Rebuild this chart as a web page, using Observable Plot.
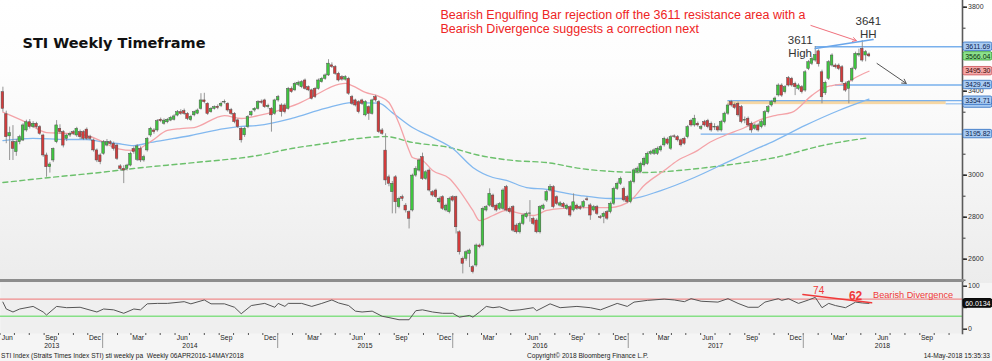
<!DOCTYPE html>
<html><head><meta charset="utf-8">
<script src="https://cdn.jsdelivr.net/npm/d3@7"></script>
<script src="https://cdn.jsdelivr.net/npm/@observablehq/plot@0.6"></script>
<style>
body{margin:0;background:#fff;font-family:"Liberation Sans",Arial,sans-serif;}
#wrap{position:relative;width:992px;height:361px;overflow:hidden;background:#f5f5f5}
#main{position:absolute;left:0;top:0;width:992px;height:283px;background:linear-gradient(#ffffff 0%,#fdfdfd 25%,#ececec 100%)}
#rsi{position:absolute;left:0;top:282px}
.ft{position:absolute;top:352px;font-size:6.6px;line-height:8px;color:#222;white-space:pre}
</style></head><body>
<div id="wrap"><div id="main"></div><div id="rsi"></div>
<div class="ft" style="left:1px">STI Index (Straits Times Index STI) sti weekly pa  Weekly 06APR2016-14MAY2018</div>
<div class="ft" style="left:527px">Copyright© 2018 Bloomberg Finance L.P.</div>
<div class="ft" style="right:2px">14-May-2018 15:35:33</div>
</div>
<script>
// ---------- DATA ----------
const firstWeek = "2013-06-07"; // weekly bars (Friday)
// [open, high, low, close] per week
const ohlc = [
[3395,3419,3300,3316],[3290,3305,3150,3181],[3185,3229,3070,3200],[3157,3236,3070,3125],[3110,3170,3090,3157],
[3157,3190,3145,3181],[3165,3245,3160,3237],[3213,3262,3205,3252],[3252,3265,3220,3229],[3229,3255,3222,3245],
[3245,3252,3220,3229],[3229,3236,3190,3197],[3189,3195,3085,3094],[3094,3105,2990,3038],[3038,3060,3010,3051],
[3070,3130,3060,3125],[3157,3260,3150,3237],[3221,3240,3195,3205],[3205,3212,3130,3141],[3173,3195,3160,3189],
[3189,3205,3180,3197],[3205,3212,3190,3197],[3189,3228,3180,3221],[3205,3215,3170,3181],[3205,3212,3165,3173],
[3217,3225,3165,3173],[3181,3190,3165,3173],[3165,3172,3110,3118],[3118,3125,3060,3070],[3094,3102,3050,3062],
[3102,3165,3095,3157],[3141,3170,3135,3157],[3157,3165,3140,3149],[3149,3158,3115,3125],[3141,3148,3070,3078],
[3042,3050,3020,3030],[3030,3045,2960,3022],[3030,3052,3020,3046],[3046,3110,3040,3102],[3125,3135,3100,3110],
[3073,3145,3065,3137],[3125,3135,3060,3070],[3070,3095,3062,3086],[3118,3180,3110,3173],[3189,3228,3180,3221],
[3213,3222,3195,3205],[3213,3265,3205,3257],[3264,3272,3250,3257],[3245,3268,3238,3260],[3252,3270,3245,3264],
[3260,3280,3255,3273],[3264,3288,3258,3280],[3284,3308,3278,3300],[3300,3312,3285,3292],[3305,3315,3285,3292],
[3292,3298,3260,3268],[3262,3285,3255,3278],[3285,3305,3278,3300],[3293,3315,3288,3308],[3316,3388,3310,3356],
[3356,3390,3340,3348],[3340,3345,3285,3292],[3300,3322,3295,3316],[3316,3330,3310,3324],[3326,3335,3312,3320],
[3330,3348,3322,3340],[3346,3358,3338,3348],[3340,3345,3300,3308],[3310,3318,3285,3292],[3292,3298,3245,3253],
[3261,3268,3222,3229],[3221,3228,3153,3166],[3190,3228,3180,3221],[3229,3284,3222,3277],[3285,3305,3278,3300],
[3308,3322,3300,3316],[3316,3355,3310,3348],[3350,3358,3338,3345],[3356,3362,3318,3324],[3324,3338,3315,3330],
[3316,3322,3205,3285],[3292,3362,3285,3356],[3356,3380,3348,3372],[3332,3340,3277,3300],[3332,3340,3292,3300],
[3316,3418,3310,3411],[3411,3420,3390,3396],[3404,3442,3398,3435],[3430,3448,3422,3440],[3419,3450,3412,3443],
[3451,3458,3405,3411],[3419,3425,3398,3404],[3404,3410,3358,3364],[3411,3418,3365,3372],[3411,3458,3405,3451],
[3443,3466,3438,3459],[3459,3482,3452,3475],[3475,3550,3470,3531],[3523,3535,3508,3515],[3515,3522,3476,3483],
[3483,3490,3444,3451],[3467,3474,3448,3455],[3455,3474,3448,3467],[3459,3466,3380,3388],[3372,3380,3332,3340],
[3356,3362,3325,3332],[3348,3355,3292,3300],[3356,3362,3332,3340],[3285,3355,3278,3348],[3324,3330,3261,3292],
[3292,3362,3286,3356],[3372,3380,3348,3356],[3348,3355,3198,3205],[3213,3222,3190,3197],[3117,3197,2951,2975],
[2990,3000,2945,2959],[2919,2970,2816,2959],[2990,2998,2816,2871],[2848,2895,2840,2887],[2895,2905,2875,2887],
[2855,2865,2820,2832],[2824,2830,2744,2792],[2832,3005,2825,2998],[2998,3040,2990,3030],[3022,3078,3015,3070],
[3086,3105,2975,2982],[2982,3022,2975,3014],[3022,3030,2920,2927],[2919,2926,2895,2903],[2927,2934,2888,2895],
[2871,2895,2864,2887],[2895,2902,2832,2840],[2832,2862,2825,2855],[2824,2895,2816,2887],[2895,2902,2872,2879],
[2895,2900,2720,2752],[2728,2735,2620,2633],[2602,2610,2530,2578],[2602,2640,2590,2633],[2625,2648,2560,2641],
[2562,2570,2530,2538],[2570,2672,2562,2665],[2665,2672,2650,2657],[2665,2848,2658,2840],[2832,2855,2825,2848],
[2855,2935,2848,2911],[2903,2910,2840,2848],[2855,2862,2825,2832],[2840,2870,2832,2863],[2840,2935,2832,2927],
[2943,2951,2825,2832],[2840,2848,2816,2824],[2848,2855,2728,2736],[2760,2768,2720,2728],[2728,2776,2720,2768],
[2768,2815,2760,2808],[2800,2824,2792,2816],[2816,2879,2776,2818],[2792,2800,2760,2768],[2784,2792,2721,2728],
[2728,2855,2720,2848],[2840,2862,2832,2855],[2879,2927,2870,2919],[2927,2955,2920,2943],[2943,2950,2840,2848],
[2895,2902,2855,2863],[2855,2874,2848,2866],[2863,2870,2840,2848],[2840,2862,2832,2855],[2848,2855,2800,2808],
[2832,2911,2824,2871],[2855,2862,2832,2840],[2848,2856,2832,2840],[2848,2880,2840,2872],[2885,2895,2875,2881],
[2856,2864,2785,2808],[2832,2856,2825,2848],[2848,2856,2808,2816],[2800,2808,2790,2796],[2801,2824,2769,2816],
[2824,2832,2785,2793],[2824,2872,2816,2864],[2864,2943,2856,2935],[2935,2967,2927,2959],[2959,2991,2951,2983],
[2935,2943,2872,2880],[2896,2904,2864,2872],[2872,2975,2864,2967],[2967,3031,2959,3023],[3015,3039,3007,3031],
[3015,3062,3007,3054],[3047,3086,3039,3078],[3054,3110,3047,3102],[3102,3118,3094,3110],[3102,3126,3094,3118],
[3102,3134,3094,3126],[3118,3142,3110,3134],[3142,3181,3134,3173],[3170,3178,3142,3150],[3126,3189,3118,3181],
[3185,3192,3175,3182],[3181,3189,3158,3166],[3166,3173,3134,3142],[3173,3181,3142,3150],[3181,3237,3173,3229],
[3258,3266,3229,3237],[3237,3285,3229,3269],[3245,3253,3229,3237],[3221,3237,3213,3229],[3253,3261,3229,3237],
[3258,3266,3221,3229],[3245,3253,3205,3213],[3227,3245,3213,3230],[3229,3237,3205,3213],[3213,3261,3205,3253],
[3253,3300,3245,3293],[3293,3340,3285,3332],[3348,3356,3324,3332],[3335,3343,3312,3320],[3340,3348,3277,3285],
[3324,3332,3245,3253],[3260,3277,3245,3262],[3269,3277,3229,3237],[3245,3253,3200,3213],[3221,3245,3213,3237],
[3237,3245,3205,3213],[3229,3261,3221,3253],[3237,3308,3229,3300],[3300,3332,3292,3324],[3332,3356,3324,3348],
[3348,3372,3340,3365],[3380,3435,3372,3427],[3427,3435,3371,3379],[3395,3427,3387,3419],[3462,3470,3420,3427],
[3459,3466,3419,3427],[3435,3443,3379,3419],[3411,3435,3403,3427],[3419,3427,3387,3395],[3403,3498,3395,3490],
[3506,3546,3498,3538],[3530,3562,3522,3554],[3546,3612,3538,3572],[3590,3597,3515,3528],[3490,3500,3340,3371],
[3390,3448,3380,3440],[3459,3546,3451,3538],[3522,3578,3514,3570],[3522,3530,3506,3514],[3522,3530,3498,3506],
[3514,3522,3435,3443],[3435,3443,3395,3403],[3411,3451,3340,3443],[3451,3514,3443,3506],[3506,3586,3498,3578],
[3570,3600,3562,3578],[3602,3641,3538,3546],[3570,3594,3540,3586],[3575,3582,3560,3566]
];
// moving averages: [week index, value]
const maFast = [[0,3300],[7,3251],[13,3203],[19,3199],[25,3189],[29,3165],[34,3127],[39,3118],[44,3160],[49,3213],[53,3222],[57,3227],[66,3284],[71,3270],[76,3284],[82,3308],[88,3341],[94,3389],[98,3422],[102,3437],[104,3427],[108,3394],[112,3375],[115,3346],[118,3246],[121,3118],[122,3084],[125,3070],[128,3022],[133,2984],[136,2927],[140,2832],[142,2784],[146,2808],[150,2832],[154,2818],[158,2808],[162,2832],[166,2841],[172,2846],[181,2846],[187,2880],[191,2951],[197,3022],[201,3070],[207,3118],[210,3151],[215,3189],[221,3227],[225,3260],[230,3284],[235,3299],[241,3380],[244,3413],[247,3427],[251,3437],[254,3465],[258,3495]];
const maMid = [[0,3165],[9,3175],[19,3170],[25,3170],[29,3160],[34,3151],[39,3141],[44,3156],[51,3175],[56,3189],[66,3222],[71,3232],[76,3237],[86,3270],[96,3318],[104,3346],[112,3343],[116,3298],[122,3227],[128,3180],[134,3127],[140,3037],[146,2989],[150,2975],[156,2941],[162,2932],[168,2913],[172,2903],[181,2889],[187,2889],[196,2927],[206,2989],[215,3056],[222,3108],[230,3165],[239,3237],[249,3308],[258,3362]];
const maSlow = [[0,2965],[14,2989],[29,3013],[39,3032],[57,3060],[76,3094],[86,3127],[96,3151],[106,3175],[114,3184],[122,3156],[133,3132],[142,3094],[152,3070],[162,3060],[172,3032],[181,3018],[191,3013],[201,3022],[210,3037],[221,3060],[230,3084],[244,3141],[258,3179]];
const rsi = [[0,63],[1,47],[3,40],[5,47],[9,53],[12,40],[13,33],[16,53],[19,50],[23,51],[28,40],[30,47],[33,45],[36,37],[39,47],[41,45],[43,59],[46,60],[49,60],[54,64],[56,59],[60,68],[62,59],[66,59],[69,51],[71,36],[74,55],[78,60],[81,51],[82,60],[84,53],[85,60],[89,60],[92,53],[95,60],[98,68],[100,61],[103,55],[105,42],[107,40],[110,42],[113,30],[115,27],[118,22],[121,22],[123,43],[125,45],[128,40],[131,37],[134,37],[136,28],[139,32],[140,28],[142,40],[144,53],[146,50],[148,52],[151,43],[154,45],[158,50],[159,43],[163,59],[166,50],[171,53],[175,50],[178,45],[183,60],[186,53],[188,63],[192,67],[197,70],[200,68],[203,64],[205,71],[208,65],[213,63],[216,71],[219,60],[222,51],[225,51],[227,63],[231,71],[232,67],[234,71],[237,60],[240,68],[242,74],[244,50],[246,60],[248,55],[251,50],[254,63],[256,61],[258,60]];
// horizontal levels and the week they start from
const levels = [3611.69, 3429.45, 3354.71, 3195.82];
const levelStart = [242, 248, 216, 208];
const supportBand = {from: 216, to: 281, low: 3336, high: 3355};
// right-hand value tags
const tagValues = [3611.69, 3566.04, 3495.30, 3429.45, 3354.71, 3195.82];
const tagKinds = ["level", "last", "ma", "level", "level", "level"];
const rsiLast = 60.0134;
const rsiBands = [70, 30];
// annotations
const trend = [[242, 3603], [259.2, 3646]];
const divergence = [[238.3, 80.7], [258.8, 61.4]];
const monthLabels = ["2013-06-16","2013-09-16","2013-12-16","2014-03-16","2014-06-16","2014-09-16","2014-12-16","2015-03-16","2015-06-16","2015-09-16","2015-12-16","2016-03-16","2016-06-16","2016-09-16","2016-12-16","2017-03-16","2017-06-16","2017-09-16","2017-12-16","2018-03-16","2018-06-16","2018-09-16"];
const yearLabels = [["2013-09-17","2013"],["2014-07-02","2014"],["2015-07-02","2015"],["2016-07-01","2016"],["2017-07-02","2017"],["2018-06-15","2018"]];
// price labels left visible (3200 and 3600 sit under value tags)
const priceTicks = [2600, 2800, 3000, 3400, 3800];
const priceMajor = [2600, 2800, 3000, 3200, 3400, 3600, 3800];
const rsiTicks = [0, 100];
const rsiMajor = [0, 50, 100];

// ---------- HELPERS ----------
const DAY = 864e5;
const t0 = Date.parse(firstWeek + "T00:00:00Z");
const wk = w => new Date(t0 + w * 7 * DAY);
const xDomain = [new Date(Date.UTC(2013,5,2)), new Date(Date.UTC(2018,10,29))];
const xEnd = +xDomain[1];
const candles = ohlc.map((d, i) => ({date: wk(i), o: d[0], h: d[1], l: d[2], c: d[3]}));
const tagStyle = {
  level: {fill: "#a9cbf2", stroke: "#2d6cc0", text: "#0b2450"},
  last:  {fill: "#8ee28e", stroke: "#2f9a2f", text: "#0a300a"},
  ma:    {fill: "#f4a9a9", stroke: "#cc5058", text: "#3a0808"},
  rsi:   {fill: "#111111", stroke: "#000000", text: "#ffffff"}
};
const tags = tagValues.map((v, i) => ({v, kind: tagKinds[i]}));
const FONT = "Liberation Sans, Arial, sans-serif";

// ---------- MAIN PRICE PANEL ----------
const main = Plot.plot({
  width: 992, height: 283,
  marginLeft: 0, marginRight: 30, marginTop: 0, marginBottom: 3,
  style: {background: "transparent", fontFamily: FONT, overflow: "visible"},
  x: {type: "utc", domain: xDomain, axis: null},
  y: {domain: [2498.5, 3831.9]},
  marks: [
    Plot.rect([supportBand], {x1: d => wk(d.from), x2: d => wk(d.to), y1: "low", y2: "high", fill: "#f6d7a4"}),
    Plot.ruleY(levels, {y: d => d, x1: (d, i) => wk(levelStart[i]), x2: () => new Date(xEnd), stroke: "#79b0ec", strokeWidth: 1.3}),
    Plot.ruleY([supportBand], {y: d => d.low + 4, x1: d => wk(d.to), x2: () => new Date(xEnd), stroke: "#9cc4f0", strokeWidth: 1.3}),
    Plot.line(maSlow, {x: d => wk(d[0]), y: d => d[1], stroke: "#6cc06c", strokeWidth: 1.4, strokeDasharray: "5,3.5", curve: "monotone-x"}),
    Plot.line(maMid, {x: d => wk(d[0]), y: d => d[1], stroke: "#82b8ef", strokeWidth: 1.3, curve: "monotone-x"}),
    Plot.line(maFast, {x: d => wk(d[0]), y: d => d[1], stroke: "#f4a3a8", strokeWidth: 1.3, curve: "monotone-x"}),
    Plot.ruleX(candles, {x: "date", y1: "l", y2: "h", stroke: "#8a8a8a", strokeWidth: 0.9}),
    Plot.rect(candles, {x1: d => new Date(+d.date - 2.7 * DAY), x2: d => new Date(+d.date + 2.7 * DAY), y1: "o", y2: "c",
      fill: d => d.c >= d.o ? "#3fc63f" : "#d43b3b", stroke: "#505050", strokeWidth: 0.5}),
    Plot.line(trend, {x: d => wk(d[0]), y: d => d[1], stroke: "#6aa6ea", strokeWidth: 1.6}),
    Plot.arrow([0], {x1: () => wk(240.7), y1: () => 3713, x2: () => wk(254.2), y2: () => 3641, stroke: "#f0707c", strokeWidth: 1, headLength: 6}),
    Plot.arrow([0], {x1: () => wk(260.4), y1: () => 3532, x2: () => wk(269.1), y2: () => 3437, stroke: "#555", strokeWidth: 1, headLength: 7}),
    Plot.text(["STI Weekly Timeframe"], {frameAnchor: "top-left", dx: 22, dy: 42.5, textAnchor: "start", lineAnchor: "middle",
      fontSize: 14.5, fontWeight: "bold", fontFamily: "DejaVu Sans", fill: "#111"}),
    Plot.text(["Bearish Engulfing Bar rejection off the 3611 resistance area with a"], {frameAnchor: "top-left", dx: 440, dy: 14,
      textAnchor: "start", lineAnchor: "middle", fontSize: 12.5, fill: "#ee2424"}),
    Plot.text(["Bearish Divergence suggests a correction next"], {frameAnchor: "top-left", dx: 440, dy: 28.3,
      textAnchor: "start", lineAnchor: "middle", fontSize: 12.5, fill: "#ee2424"}),
    Plot.text(["3641", "HH"], {x: () => wk(257.8), y: (d, i) => [3733, 3673][i], text: d => d, fontSize: 11.5, fill: "#333", lineAnchor: "middle"}),
    Plot.text(["3611", "High"], {x: () => wk(237.5), y: (d, i) => [3641, 3581][i], text: d => d, fontSize: 11.5, fill: "#333", lineAnchor: "middle"}),
    Plot.axisY({anchor: "right", ticks: d3.range(2500, 3900, 100), tickSize: 2.5, tickFormat: () => "", stroke: "#333", label: null}),
    Plot.axisY({anchor: "right", ticks: priceMajor, tickSize: 4, tickFormat: () => "", stroke: "#222", label: null}),
    Plot.axisY({anchor: "right", ticks: priceTicks, tickSize: 4, tickPadding: 1.5, tickFormat: d => String(d), fontSize: 7, stroke: "#222", fill: "#333", label: null}),
    Plot.frame({anchor: "right", stroke: "#5a5a5a", strokeWidth: 1.6}),
    Plot.frame({anchor: "bottom", stroke: "#8d8d8d", strokeWidth: 3}),
    Plot.rect([3341], {x1: () => new Date(xEnd + 2 * DAY), x2: () => new Date(xEnd + 62 * DAY), y1: d => d - 20, y2: d => d + 20,
      fill: tagStyle.level.fill, stroke: tagStyle.level.stroke, strokeWidth: 0.8, rx: 1.5}),
    Plot.rect(tags, {x1: () => new Date(xEnd + 2 * DAY), x2: () => new Date(xEnd + 62 * DAY), y1: d => d.v - 20, y2: d => d.v + 20,
      fill: d => tagStyle[d.kind].fill, stroke: d => tagStyle[d.kind].stroke, strokeWidth: 0.8, rx: 1.5}),
    Plot.text(tags, {x: () => new Date(xEnd + 32 * DAY), y: "v", text: d => d.v.toFixed(2), fontSize: 7, fill: d => tagStyle[d.kind].text, lineAnchor: "middle"})
  ]
});
document.getElementById("main").append(main);

// ---------- RSI PANEL ----------
const rsiPlot = Plot.plot({
  width: 992, height: 79,
  marginLeft: 0, marginRight: 30, marginTop: 0, marginBottom: 28,
  style: {background: "transparent", fontFamily: FONT, overflow: "visible"},
  x: {type: "utc", domain: xDomain},
  y: {domain: [-10, 108.6]},
  marks: [
    Plot.frame({fill: "#efefef", stroke: "none"}),
    Plot.ruleY(rsiBands, {y: d => d, stroke: (d, i) => ["#f08c8c", "#86e086"][i], strokeWidth: 1.4}),
    Plot.line(rsi, {x: d => wk(d[0]), y: d => d[1], stroke: "#555", strokeWidth: 1}),
    Plot.line(divergence, {x: d => wk(d[0]), y: d => d[1], stroke: "#f03a3a", strokeWidth: 1.4}),
    Plot.text(["74"], {x: () => wk(243), y: () => 90, fontSize: 10, fill: "#f03a3a", lineAnchor: "middle"}),
    Plot.text(["62"], {x: () => wk(254), y: () => 78, fontSize: 12, fontWeight: "bold", fill: "#f03a3a", lineAnchor: "middle"}),
    Plot.text(["Bearish Divergence"], {x: () => wk(259.2), y: () => 80.5, fontSize: 9.2, fill: "#f03a3a", textAnchor: "start", lineAnchor: "middle"}),
    Plot.axisY({anchor: "right", ticks: rsiMajor, tickSize: 4, tickFormat: () => "", stroke: "#222", label: null}),
    Plot.axisY({anchor: "right", ticks: rsiTicks, tickSize: 4, tickPadding: 1.5, fontSize: 7, stroke: "#222", fill: "#333", label: null}),
    Plot.frame({anchor: "right", stroke: "#5a5a5a", strokeWidth: 1.6}),
    Plot.axisX({anchor: "bottom", ticks: d3.utcMonth.range(new Date(Date.UTC(2013,5,1)), xDomain[1]), tickSize: 2, tickFormat: () => "", stroke: "#555", label: null}),
    Plot.axisX({anchor: "bottom", ticks: d3.utcYear.range(new Date(Date.UTC(2014,0,1)), xDomain[1]), tickSize: 15, tickFormat: () => "", stroke: "#999", label: null}),
    Plot.axisX({anchor: "bottom", ticks: monthLabels.map(d => new Date(d)), tickSize: 0, tickPadding: 2, tickFormat: d3.utcFormat("%b"), fontSize: 6.8, fill: "#222", label: null}),
    Plot.axisX({anchor: "bottom", ticks: yearLabels.map(d => new Date(d[0])), tickSize: 0, tickPadding: 10, tickFormat: (d, i) => yearLabels[i][1], fontSize: 6.8, fill: "#222", label: null}),
    Plot.rect([rsiLast], {x1: () => new Date(xEnd + 2 * DAY), x2: () => new Date(xEnd + 62 * DAY), y1: d => d - 10, y2: d => d + 10,
      fill: tagStyle.rsi.fill, stroke: tagStyle.rsi.stroke, rx: 1.5}),
    Plot.text([rsiLast], {x: () => new Date(xEnd + 32 * DAY), y: d => d, text: d => String(d), fontSize: 7, fill: tagStyle.rsi.text, lineAnchor: "middle"})
  ]
});
document.getElementById("rsi").append(rsiPlot);
</script>
</body></html>
